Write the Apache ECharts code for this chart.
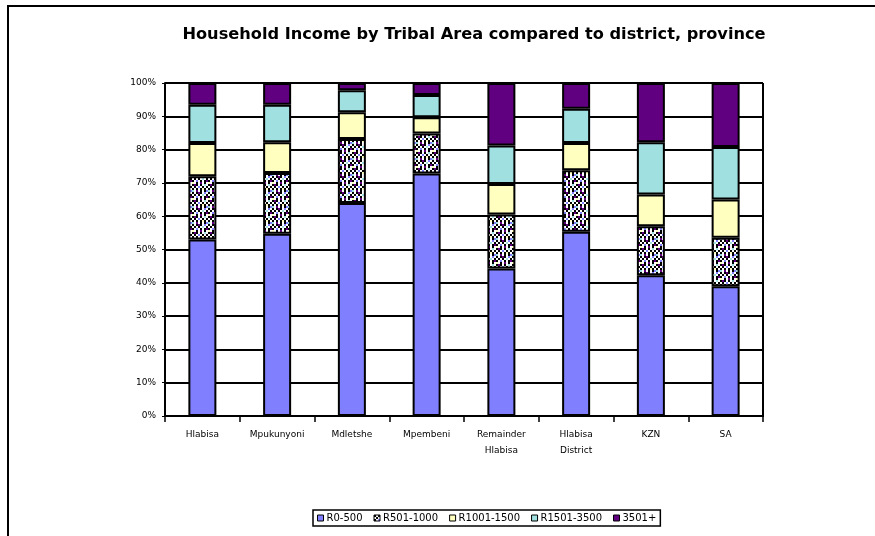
<!DOCTYPE html>
<html>
<head>
<meta charset="utf-8">
<script src="https://cdn.jsdelivr.net/npm/echarts@6/dist/echarts.min.js"></script>
<style>
html,body{margin:0;padding:0;background:#fff;}
#frame{position:absolute;left:7px;top:5px;width:868px;height:531px;border-left:2px solid #000;border-top:2px solid #000;box-sizing:border-box;}
#chart{position:absolute;left:0;top:0;width:875px;height:536px;}
</style>
</head>
<body>
<div id="frame"></div>
<div id="chart"></div>
<script>
const categories = ['Hlabisa','Mpukunyoni','Mdletshe','Mpembeni','Remainder\nHlabisa','Hlabisa\nDistrict','KZN','SA'];
const seriesNames = ['R0-500','R501-1000','R1001-1500','R1501-3500','3501+'];
const r0_500     = [53.0, 54.7, 64.0, 72.8, 44.3, 55.3, 42.3, 39.0];
const r501_1000  = [19.0, 18.3, 19.2, 12.0, 16.2, 18.5, 14.7, 14.5];
const r1001_1500 = [10.0,  9.2,  8.0,  4.9,  9.2,  8.2,  9.5, 11.5];
const r1501_3500 = [11.5, 11.3,  6.6,  6.7, 11.5, 10.3, 15.7, 15.8];
const r3501plus  = [ 6.5,  6.5,  2.2,  3.6, 18.8,  7.7, 17.8, 19.2];
const yTicks = [0,10,20,30,40,50,60,70,80,90,100];

// checker pattern for R501-1000
const pc = document.createElement('canvas');
pc.width = 8; pc.height = 8;
const ctx = pc.getContext('2d');
const cols = {k:'#000000', w:'#ffffff', p:'#600080', b:'#8080ff', c:'#a0e0e0', y:'#ffffc0'};
const pat = [
  'kwkpkwbw',
  'wkwkwcwk',
  'kwbwkwkp',
  'ywkwpwkw',
  'kpkwkwcw',
  'wkwbwkwk',
  'kwkwkykw',
  'cwpwkwkb'
];
for (let r=0;r<8;r++) for (let c=0;c<8;c++){ ctx.fillStyle = cols[pat[r][c]]; ctx.fillRect(c,r,1,1); }
const big = document.createElement('canvas');
big.width = 16; big.height = 16;
const bctx = big.getContext('2d');
bctx.imageSmoothingEnabled = false;
bctx.drawImage(pc,0,0,16,16);

const colors = ['#8080ff', {image: big, repeat: 'repeat'}, '#ffffc0', '#a0e0e0', '#600080'];
const dataArr = [r0_500, r501_1000, r1001_1500, r1501_3500, r3501plus];

const chart = echarts.init(document.getElementById('chart'));
chart.setOption({
  animation: false,
  title: {
    text: 'Household Income by Tribal Area compared to district, province',
    left: 469, top: 22, textAlign: 'center',
    textStyle: {fontFamily: 'DejaVu Sans', fontWeight: 'bold', fontSize: 16.2, color: '#000'}
  },
  legend: {
    data: seriesNames,
    left: 313, top: 510,
    width: 420,
    itemWidth: 6, itemHeight: 6, itemGap: 11,
    padding: [3, 4, 3, 4],
    borderColor: '#000', borderWidth: 1.5,
    icon: 'rect',
    textStyle: {fontFamily: 'DejaVu Sans', fontSize: 10, color: '#000', padding: [0,0,0,-2]},
    itemStyle: {borderColor: '#000', borderWidth: 1}
  },
  grid: {left: 165, right: 112, top: 83, bottom: 120},
  xAxis: {
    type: 'category', data: categories,
    axisLine: {lineStyle: {color: '#000', width: 2}},
    axisTick: {show: true, length: 6, lineStyle: {color: '#000', width: 1.5}},
    axisLabel: {fontFamily: 'DejaVu Sans', fontSize: 9, color: '#000', margin: 11, lineHeight: 16}
  },
  yAxis: {
    type: 'value', min: 0, max: 100, interval: 10,
    axisLine: {show: true, lineStyle: {color: '#000', width: 2}},
    axisTick: {show: true, length: 3, lineStyle: {color: '#000'}},
    axisLabel: {fontFamily: 'DejaVu Sans', fontSize: 9, color: '#000', margin: 9,
      formatter: v => v + '%'},
    splitLine: {show: true, lineStyle: {color: '#000', width: 2}}
  },
  graphic: [{
    type: 'line', shape: {x1: 763, y1: 83, x2: 763, y2: 417}, style: {stroke: '#000', lineWidth: 2}
  }],
  series: seriesNames.map((n, i) => ({
    name: n, type: 'bar', stack: 'total', barWidth: 28,
    data: dataArr[i],
    itemStyle: {color: colors[i], borderColor: '#000', borderWidth: 2},
    z: 3
  }))
});
</script>
</body>
</html>
